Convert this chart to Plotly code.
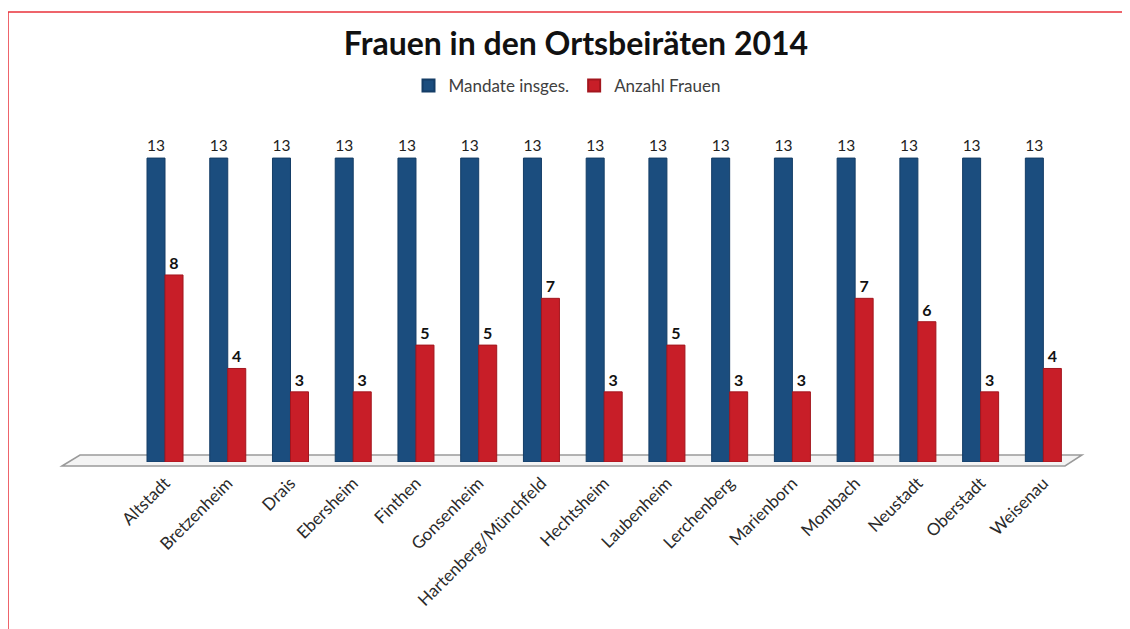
import plotly.graph_objects as go

categories = ["Altstadt", "Bretzenheim", "Drais", "Ebersheim", "Finthen", "Gonsenheim",
              "Hartenberg/Münchfeld", "Hechtsheim", "Laubenheim", "Lerchenberg",
              "Marienborn", "Mombach", "Neustadt", "Oberstadt", "Weisenau"]
mandate = [13, 13, 13, 13, 13, 13, 13, 13, 13, 13, 13, 13, 13, 13, 13]
frauen = [8, 4, 3, 3, 5, 5, 7, 3, 5, 3, 3, 7, 6, 3, 4]

OFF = 8  # page body margin
W, H = 1130 - OFF, 629 - OFF
# plot area in window pixels
X0, X1, Y0, Y1 = 96, 1081, 123, 462
ML, MR, MT, MB = X0 - OFF, OFF + W - X1, Y0 - OFF, OFF + H - Y1
PW, PH = X1 - X0, Y1 - Y0


def px(x):
    return (x - X0) / PW


def py(y):
    return (Y1 - y) / PH


fig = go.Figure()
fig.add_trace(go.Bar(
    name="Mandate insges.", x=categories, y=mandate,
    marker=dict(color="#1B4D7E", line=dict(color="#143d66", width=1)),
    text=mandate, textposition="outside",
    textfont=dict(family="Lato", size=17, color="#222222"),
    cliponaxis=False,
))
fig.add_trace(go.Bar(
    name="Anzahl Frauen", x=categories, y=frauen,
    marker=dict(color="#C81E28", line=dict(color="#a3161e", width=1)),
    text=[f"<b>{v}</b>" for v in frauen], textposition="outside",
    textfont=dict(family="Lato", size=16, color="#111111"),
    cliponaxis=False,
))

floor = (f"M {px(62)} {py(466)} L {px(80)} {py(455)} L {px(1082)} {py(455)} "
         f"L {px(1065)} {py(466)} Z")

fig.update_layout(
    width=W, height=H,
    margin=dict(l=ML, r=MR, t=MT, b=MB),
    paper_bgcolor="white", plot_bgcolor="white",
    barmode="group", bargap=0.426, bargroupgap=0,
    title=dict(text="Frauen in den Ortsbeiräten 2014", xref="container",
               x=(576 - OFF) / W, xanchor="center",
               y=1 - (44 - OFF) / H, yanchor="middle",
               font=dict(family="Lato", size=32, color="#111111", weight="bold")),
    legend=dict(orientation="h", x=px(567), xanchor="center", y=py(86), yanchor="middle",
                font=dict(family="Lato", size=17, color="#404040"),
                bgcolor="rgba(0,0,0,0)", itemsizing="constant"),
    xaxis=dict(range=[-1.1, 14.6], showgrid=False, zeroline=False, showline=False,
               tickangle=-45, tickfont=dict(family="Lato", size=17, color="#2a2a2a"),
               ticklabelstandoff=7, fixedrange=True),
    yaxis=dict(range=[0, 14.5], visible=False, showgrid=False, fixedrange=True),
    shapes=[
        dict(type="path", path=floor, xref="paper", yref="paper", layer="below",
             fillcolor="#f4f4f4", line=dict(color="#9a9a9a", width=1.5)),
        dict(type="line", xref="paper", yref="paper", x0=px(8), y0=py(12), x1=px(1135), y1=py(12),
             line=dict(color="#E8303A", width=1.5)),
        dict(type="line", xref="paper", yref="paper", x0=px(8), y0=py(12), x1=px(8), y1=py(640),
             line=dict(color="#E8303A", width=1.5)),
    ],
)

fig.write_html("out.html")
